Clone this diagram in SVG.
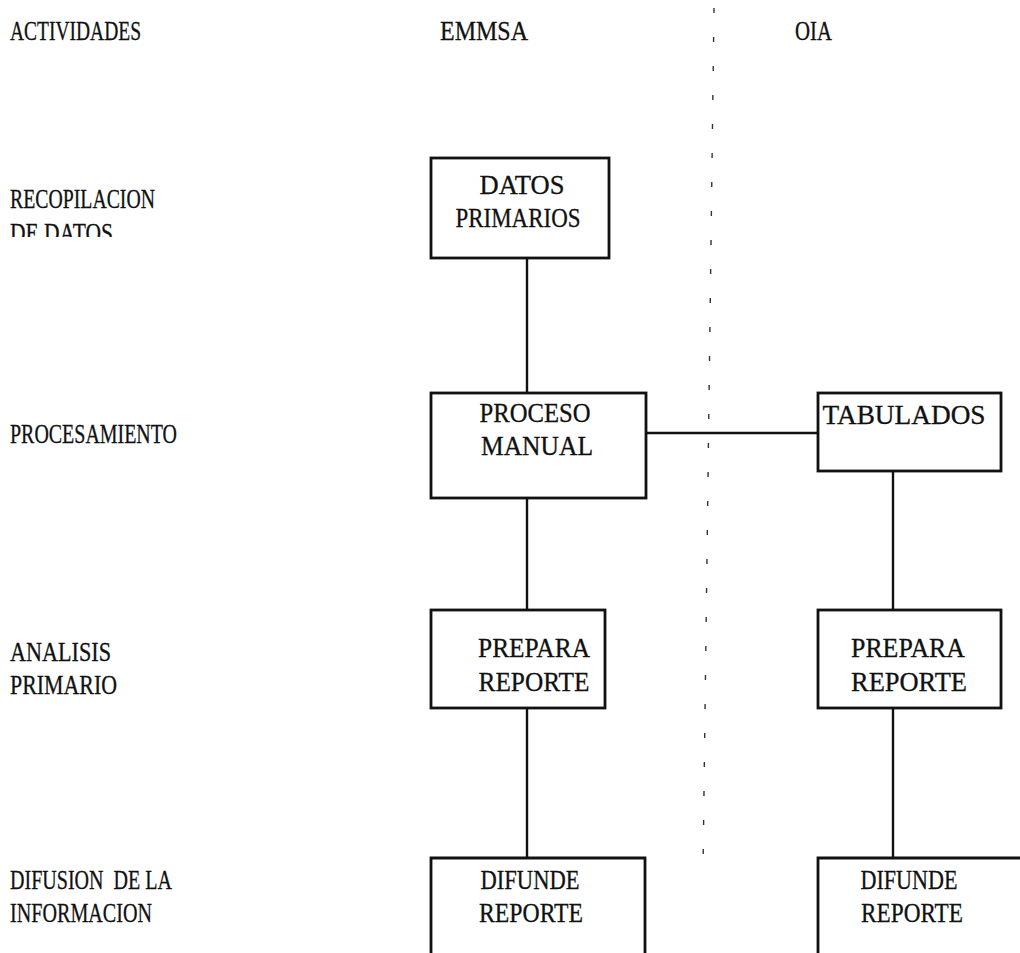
<svg xmlns="http://www.w3.org/2000/svg" width="1020" height="953" viewBox="0 0 1020 953">
<style>
text{font-family:'Liberation Serif',Tinos,'Times New Roman',Times,'DejaVu Serif',serif;font-size:27px;fill:#111;stroke:#111;stroke-width:0.3}
.c{text-anchor:middle}
.box{fill:none;stroke:#111;stroke-width:2.8}
.con{stroke:#111;stroke-width:2.4;fill:none}
.div{stroke:#333;stroke-width:1.4;stroke-dasharray:5 24;fill:none}
</style>
<defs>
<clipPath id="cut"><rect x="0" y="0" width="300" height="237"/></clipPath>
</defs>
<rect width="1020" height="953" fill="#fff"/>
<g id="headers">
<text x="10" y="40" textLength="131" lengthAdjust="spacingAndGlyphs">ACTIVIDADES</text>
<text x="440" y="40" textLength="88" lengthAdjust="spacingAndGlyphs">EMMSA</text>
<text x="795" y="40" textLength="37" lengthAdjust="spacingAndGlyphs">OIA</text>
</g>
<g id="activities">
<text x="10" y="208" textLength="145" lengthAdjust="spacingAndGlyphs">RECOPILACION</text>
<text x="10" y="242" clip-path="url(#cut)" textLength="103" lengthAdjust="spacingAndGlyphs">DE DATOS</text>
<text x="10" y="443" textLength="167" lengthAdjust="spacingAndGlyphs">PROCESAMIENTO</text>
<text x="10" y="661" textLength="101" lengthAdjust="spacingAndGlyphs">ANALISIS</text>
<text x="10" y="694" textLength="107" lengthAdjust="spacingAndGlyphs">PRIMARIO</text>
<text x="10" y="889" xml:space="preserve" textLength="162" lengthAdjust="spacingAndGlyphs">DIFUSION  DE LA</text>
<text x="10" y="922" textLength="142" lengthAdjust="spacingAndGlyphs">INFORMACION</text>
</g>
<g id="divider">
<path class="div" d="M714 8 L703 870"/>
</g>
<g id="connectors">
<path class="con" d="M527 258 V393"/>
<path class="con" d="M646 433 H818"/>
<path class="con" d="M527 498 V610"/>
<path class="con" d="M893 471 V610"/>
<path class="con" d="M527 708 V858"/>
<path class="con" d="M893 708 V858"/>
</g>
<g id="datos-primarios">
<rect class="box" x="431" y="158" width="178" height="100"/>
<text class="c" x="522" y="194" textLength="85" lengthAdjust="spacingAndGlyphs">DATOS</text>
<text class="c" x="518" y="227" textLength="125" lengthAdjust="spacingAndGlyphs">PRIMARIOS</text>
</g>
<g id="proceso-manual">
<rect class="box" x="431" y="393" width="215" height="105"/>
<text class="c" x="535" y="422" textLength="111" lengthAdjust="spacingAndGlyphs">PROCESO</text>
<text class="c" x="537" y="455" textLength="112" lengthAdjust="spacingAndGlyphs">MANUAL</text>
</g>
<g id="tabulados">
<rect class="box" x="818" y="393" width="183" height="78"/>
<text class="c" x="904" y="424" textLength="163" lengthAdjust="spacingAndGlyphs">TABULADOS</text>
</g>
<g id="prepara-emmsa">
<rect class="box" x="431" y="610" width="174" height="98"/>
<text class="c" x="534" y="657" textLength="112" lengthAdjust="spacingAndGlyphs">PREPARA</text>
<text class="c" x="534" y="691" textLength="111" lengthAdjust="spacingAndGlyphs">REPORTE</text>
</g>
<g id="prepara-oia">
<rect class="box" x="818" y="610" width="183" height="98"/>
<text class="c" x="908" y="657" textLength="114" lengthAdjust="spacingAndGlyphs">PREPARA</text>
<text class="c" x="909" y="691" textLength="116" lengthAdjust="spacingAndGlyphs">REPORTE</text>
</g>
<g id="difunde-emmsa">
<path class="box" d="M431 955 V858 H645 V955"/>
<text class="c" x="530" y="889" textLength="99" lengthAdjust="spacingAndGlyphs">DIFUNDE</text>
<text class="c" x="531" y="922" textLength="104" lengthAdjust="spacingAndGlyphs">REPORTE</text>
</g>
<g id="difunde-oia">
<path class="box" d="M818 955 V858 H1022"/>
<text class="c" x="909" y="889" textLength="97" lengthAdjust="spacingAndGlyphs">DIFUNDE</text>
<text class="c" x="912" y="922" textLength="102" lengthAdjust="spacingAndGlyphs">REPORTE</text>
</g>
</svg>
